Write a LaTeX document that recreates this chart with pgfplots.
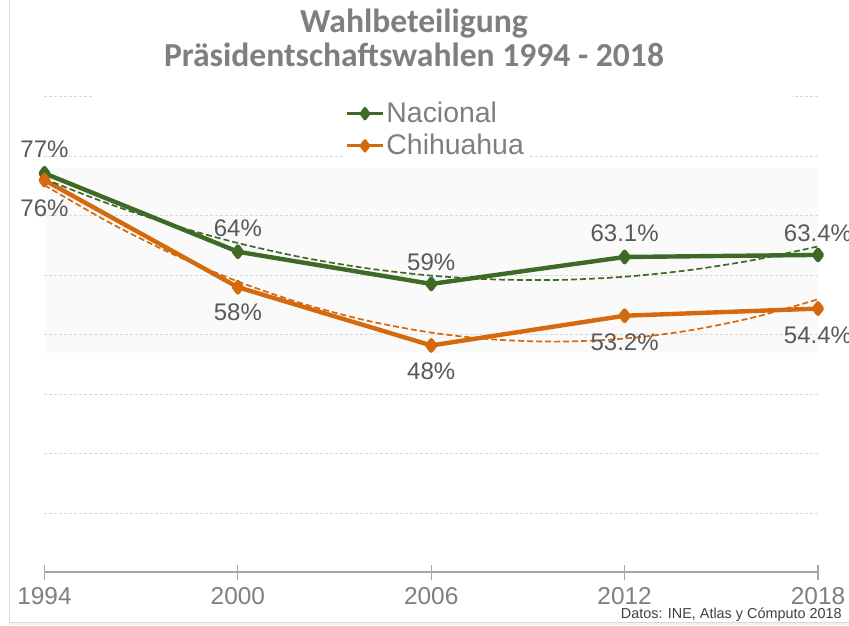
\documentclass[border=0pt]{standalone}
\usepackage{fontspec}
\setmainfont{Liberation Sans}
\newfontfamily\titlefont{Carlito}
\usepackage{pgfplots}
\pgfplotsset{compat=1.18}
\definecolor{cgreen}{HTML}{3F6A26}
\definecolor{corange}{HTML}{D5690E}
\definecolor{labelgray}{HTML}{595959}
\definecolor{tickgray}{HTML}{7F7F7F}
\definecolor{gridgray}{HTML}{D9D9D9}
\definecolor{axisgray}{HTML}{A6A6A6}
\definecolor{bandgray}{HTML}{FAFAFA}
\tikzset{labelstyle/.style={font=\fontsize{12}{14}\selectfont, text=labelgray, inner sep=0pt, anchor=center}}
\pgfplotsset{common/.style={at={(0pt,0pt)}, anchor=south west,
  width=386.75pt, height=237.75pt, scale only axis,
  xmin=1994, xmax=2018, ymin=10, ymax=90}}
\begin{document}
\begin{tikzpicture}
\path[use as bounding box] (-22.25pt,-26.25pt) rectangle (402.25pt,286.25pt);
\fill[white] (-22.25pt,-26.25pt) rectangle (402.25pt,286.25pt);
% background band
\begin{axis}[common, hide axis]
\addplot[fill=bandgray, draw=none]
  coordinates {(1994,46.9)(2018,46.9)(2018,78)(1994,78)} -- cycle;
\end{axis}
\begin{axis}[common,
  clip=false,
  axis x line*=bottom, axis y line*=left,
  x axis line style={-, draw=axisgray, line width=1pt},
  y axis line style={draw=none},
  xtick={1994,2000,2006,2012,2018},
  xticklabels={1994,2000,2006,2012,2018},
  xtick align=center,
  major tick length=7.5pt,
  x tick style={draw=axisgray, line width=0.6pt},
  ytick={20,30,...,90},
  yticklabel=\empty,
  y tick style={draw=none},
  ymajorgrids,
  grid style={draw=gridgray, dash pattern=on 1.5pt off 1pt, line width=0.5pt},
  xticklabel style={font=\fontsize{12.2}{14}\selectfont, text=tickgray, anchor=north, inner sep=0pt, yshift=-3.6pt},
  legend style={at={(0.386,0.999)}, anchor=north west, draw=none, fill=white, inner sep=1pt,
    font=\fontsize{14.2}{16}\selectfont, text=tickgray, row sep=2.3pt, nodes={inner sep=1pt}},
  legend cell align=left,
  legend image code/.code={\draw[mark repeat=2, mark phase=2, line width=1.5pt] plot coordinates {(0pt,0pt)(9pt,0pt)(18pt,0pt)};},
]
\addplot[cgreen, line width=2.2pt, line join=round, mark=diamond*, mark size=2.6pt, mark options={solid}]
  coordinates {(1994,77.16)(2000,63.97)(2006,58.55)(2012,63.08)(2018,63.43)};
\addlegendentry{Nacional}
\addplot[corange, line width=2.2pt, line join=round, mark=diamond*, mark size=2.6pt, mark options={solid}]
  coordinates {(1994,76.0)(2000,58.0)(2006,48.2)(2012,53.2)(2018,54.4)};
\addlegendentry{Chihuahua}

% polynomial trend lines (order 2)
\addplot[cgreen, line width=0.85pt, dash pattern=on 3pt off 1.5pt, smooth, forget plot]
  coordinates {(1994,76.198)(1996,72.020)(1998,68.430)(2000,65.428)(2002,63.014)(2004,61.187)(2006,59.948)
               (2008,59.297)(2010,59.234)(2012,59.758)(2014,60.870)(2016,62.570)(2018,64.858)};
\addplot[corange, line width=0.85pt, dash pattern=on 3pt off 1.5pt, smooth, forget plot]
  coordinates {(1994,75.16)(1996,68.916)(1998,63.516)(2000,58.96)(2002,55.249)(2004,52.382)(2006,50.36)
               (2008,49.182)(2010,48.849)(2012,49.36)(2014,50.716)(2016,52.916)(2018,55.96)};

\node[labelstyle] at (axis cs:1994,81.2) {77\%};
\node[labelstyle] at (axis cs:1994,71.3) {76\%};
\node[labelstyle] at (axis cs:2000,67.96) {64\%};
\node[labelstyle] at (axis cs:2000,53.83) {58\%};
\node[labelstyle] at (axis cs:2006,62.24) {59\%};
\node[labelstyle] at (axis cs:2006,43.9) {48\%};
\node[labelstyle] at (axis cs:2012,67.0) {63.1\%};
\node[labelstyle] at (axis cs:2012,48.78) {53.2\%};
\node[labelstyle] at (axis cs:2018,67.0) {63.4\%};
\node[labelstyle] at (axis cs:2018,49.96) {54.4\%};
\end{axis}
\fill[white] (24.25pt,237.5pt) rectangle (373.75pt,286.25pt);
\node[anchor=base, inner sep=0pt, text=tickgray, font=\titlefont\bfseries\fontsize{16.8}{19}\selectfont] at (184.75pt,270.1pt) {Wahlbeteiligung};
\node[anchor=base, inner sep=0pt, text=tickgray, font=\titlefont\bfseries\fontsize{16.8}{19}\selectfont] at (184.75pt,252.9pt) {Präsidentschaftswahlen 1994 - 2018};
\draw[gridgray, line width=0.5pt] (-17.25pt,286.25pt) -- (-17.25pt,-25pt) -- (402.25pt,-25pt);
\fill[black!6] (-17.25pt,-26.25pt) rectangle (402.25pt,-25.25pt);
\node[anchor=base east, inner sep=0pt, text=black!75, font=\fontsize{7.2}{8}\selectfont] at (398.75pt,-22.8pt) {Datos: INE, Atlas y Cómputo 2018};
\end{tikzpicture}
\end{document}
